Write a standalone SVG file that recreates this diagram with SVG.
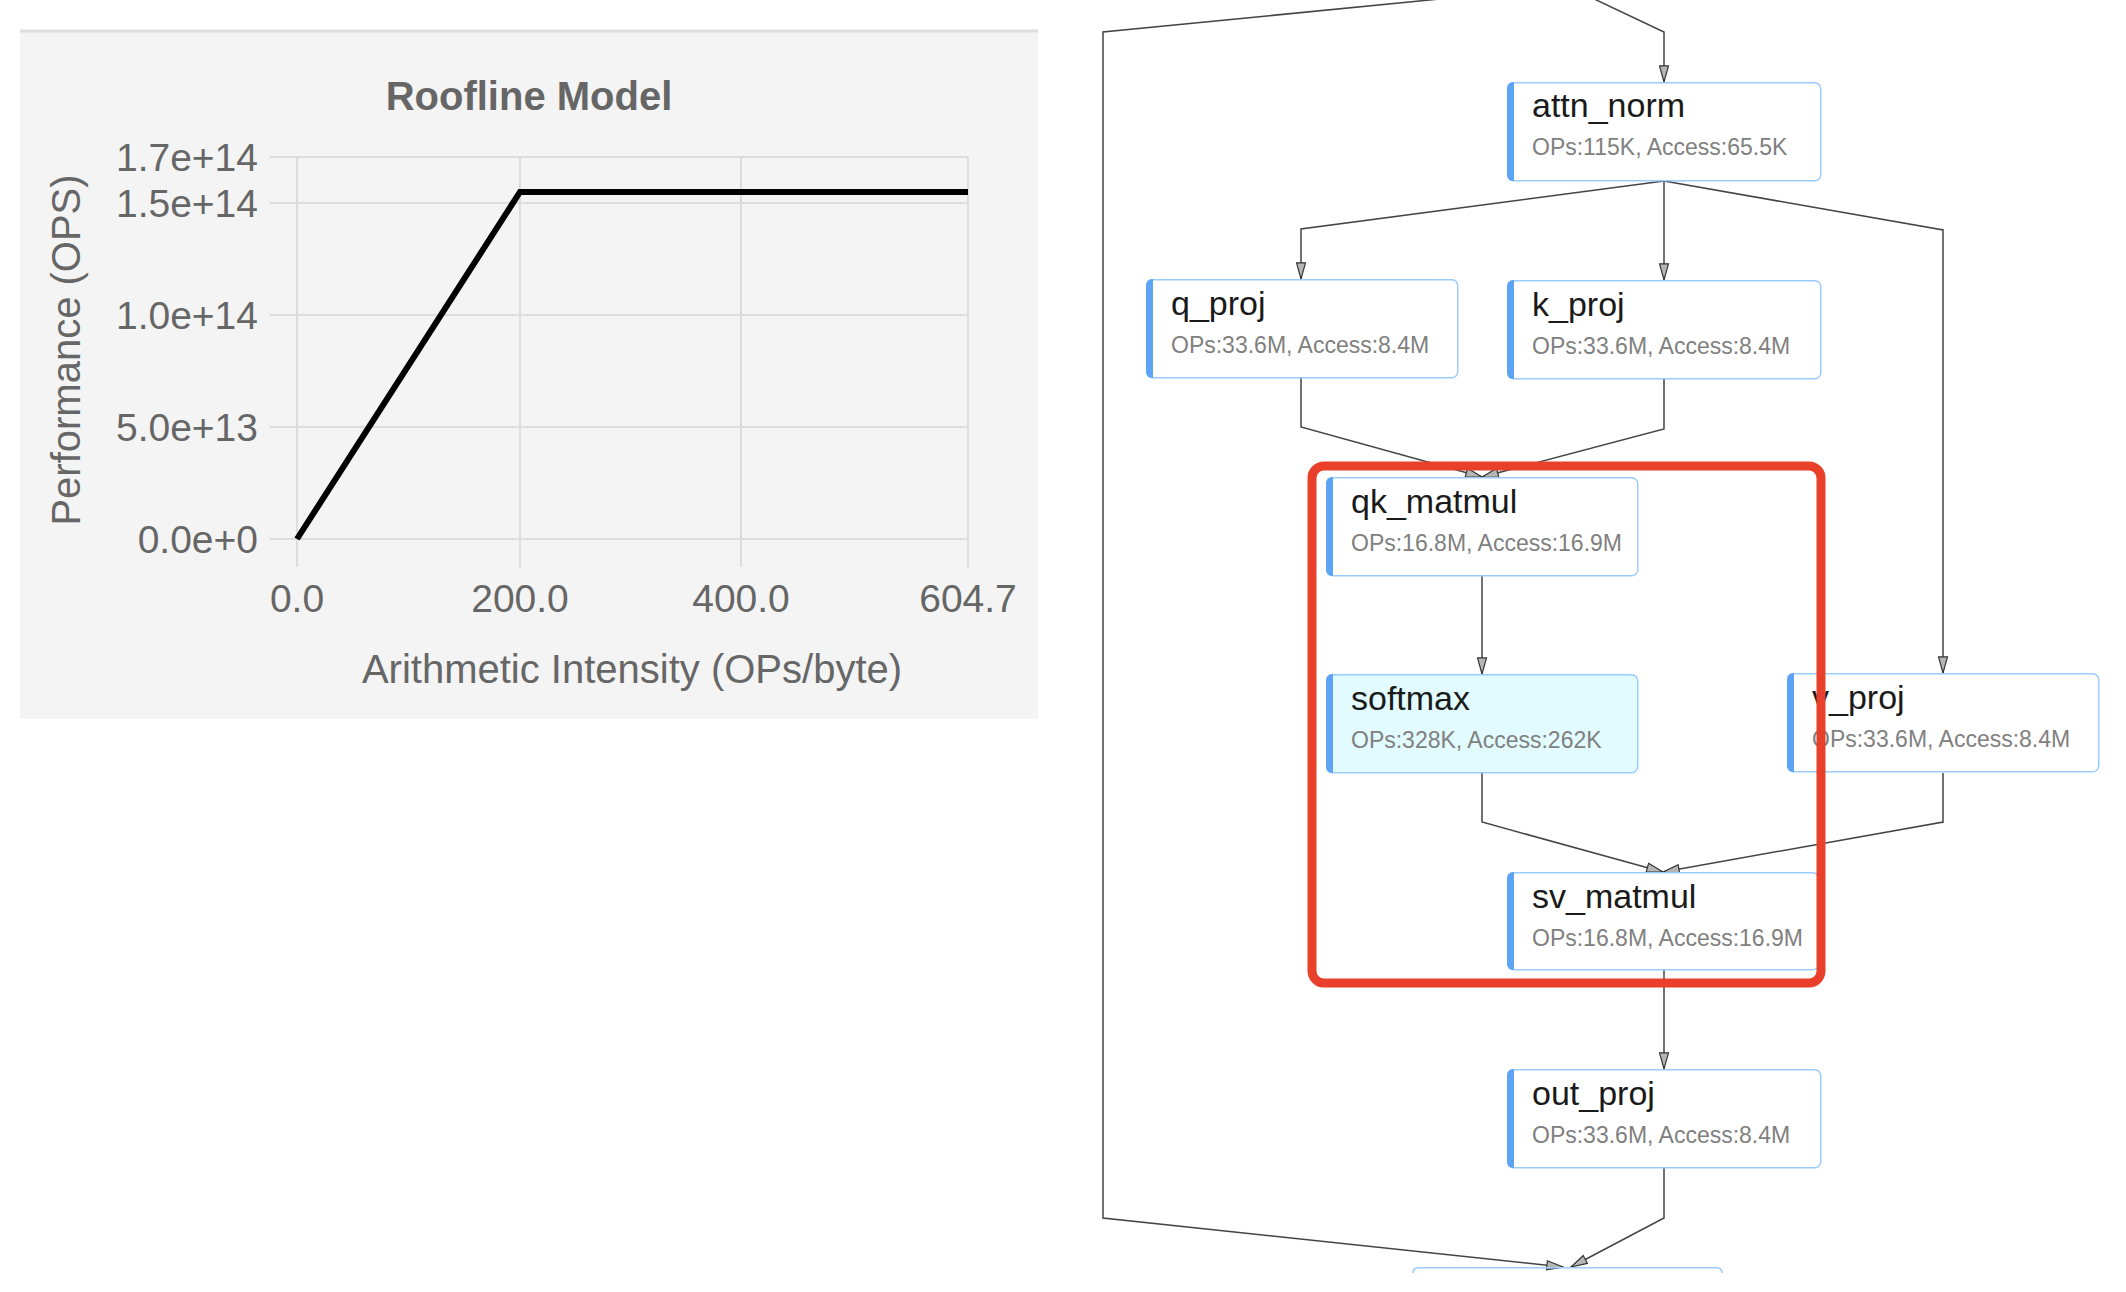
<svg xmlns="http://www.w3.org/2000/svg" width="2126" height="1292" viewBox="0 0 2126 1292">
<style>
.grid{stroke:#dcdcdc;stroke-width:2;fill:none}
.tick{font-family:"Liberation Sans",Arial,sans-serif;font-size:39px;fill:#666}
.axt{font-family:"Liberation Sans",Arial,sans-serif;font-size:40px;fill:#666}
.ttl{font-family:"Liberation Sans",Arial,sans-serif;font-size:40px;font-weight:bold;fill:#666}
.edge{fill:none;stroke:#444;stroke-width:1.5}
.box{fill:#fff;stroke:#9ccbff;stroke-width:1.5}
.box.hl{fill:#e1fbff}
.bar{fill:#5ea4f5}
.nt{font-family:"Liberation Sans",Arial,sans-serif;font-size:34px;fill:#1a1a1a}
.ns{font-family:"Liberation Sans",Arial,sans-serif;font-size:23px;fill:#808080}
</style>
<defs>
<marker id="arr" viewBox="0 0 20 12" refX="19" refY="6" markerWidth="18" markerHeight="11" markerUnits="userSpaceOnUse" orient="auto">
<path d="M1,1 L19,6 L1,11 Z" fill="#b5b5b5" stroke="#333" stroke-width="1.3"/>
</marker>
</defs>
<rect width="2126" height="1292" fill="#fff"/>

<g id="chart">
<rect x="20" y="31" width="1018" height="688" fill="#f4f4f4"/>
<line x1="20" y1="31" x2="1038" y2="31" stroke="#dedede" stroke-width="3"/>
<text class="ttl" x="529" y="110" text-anchor="middle">Roofline Model</text>
<g class="grid">
<line x1="270" y1="157" x2="968" y2="157"/>
<line x1="270" y1="203" x2="968" y2="203"/>
<line x1="270" y1="315" x2="968" y2="315"/>
<line x1="270" y1="427" x2="968" y2="427"/>
<line x1="270" y1="539" x2="968" y2="539"/>
<line x1="297" y1="157" x2="297" y2="567"/>
<line x1="520" y1="157" x2="520" y2="567"/>
<line x1="741" y1="157" x2="741" y2="567"/>
<line x1="968" y1="157" x2="968" y2="567"/>
</g>
<g class="tick" text-anchor="end">
<text x="258" y="171">1.7e+14</text>
<text x="258" y="217">1.5e+14</text>
<text x="258" y="329">1.0e+14</text>
<text x="258" y="441">5.0e+13</text>
<text x="258" y="553">0.0e+0</text>
</g>
<g class="tick" text-anchor="middle">
<text x="297" y="612">0.0</text>
<text x="520" y="612">200.0</text>
<text x="741" y="612">400.0</text>
<text x="968" y="612">604.7</text>
</g>
<text class="axt" x="632" y="683" text-anchor="middle">Arithmetic Intensity (OPs/byte)</text>
<text class="axt" transform="translate(80,350) rotate(-90)" text-anchor="middle">Performance (OPS)</text>
<path d="M297,539 L520,192 L968,192" fill="none" stroke="#000" stroke-width="6" stroke-linejoin="miter"/>
</g>

<g id="connectors">
<path class="edge" marker-end="url(#arr)" d="M1460,-3 L1103,32 L1103,1218 L1563,1267"/>
<path class="edge" marker-end="url(#arr)" d="M1590,-3 L1664,32 L1664,82"/>
<path class="edge" marker-end="url(#arr)" d="M1664,181 L1301,229 L1301,279"/>
<path class="edge" marker-end="url(#arr)" d="M1664,181 L1664,280"/>
<path class="edge" marker-end="url(#arr)" d="M1664,181 L1943,230 L1943,673"/>
<path class="edge" marker-end="url(#arr)" d="M1301,378 L1301,427 L1482,477"/>
<path class="edge" marker-end="url(#arr)" d="M1664,379 L1664,429 L1482,477"/>
<path class="edge" marker-end="url(#arr)" d="M1482,576 L1482,674"/>
<path class="edge" marker-end="url(#arr)" d="M1482,773 L1482,822 L1663,872"/>
<path class="edge" marker-end="url(#arr)" d="M1943,773 L1943,822 L1663,872"/>
<path class="edge" marker-end="url(#arr)" d="M1664,970 L1664,1069"/>
<path class="edge" marker-end="url(#arr)" d="M1664,1168 L1664,1218 L1571,1267"/>
</g>

<g id="attn_norm" transform="translate(1507,82)">
<rect class="box" x="0.75" y="0.75" width="313" height="98" rx="6"/>
<path class="bar" d="M7,0 H6 A6,6 0 0 0 0,6 V93 A6,6 0 0 0 6,99 H7 Z"/>
<text class="nt" x="25" y="35">attn_norm</text>
<text class="ns" x="25" y="73">OPs:115K, Access:65.5K</text>
</g>
<g id="q_proj" transform="translate(1146,279)">
<rect class="box" x="0.75" y="0.75" width="311" height="98" rx="6"/>
<path class="bar" d="M7,0 H6 A6,6 0 0 0 0,6 V93 A6,6 0 0 0 6,99 H7 Z"/>
<text class="nt" x="25" y="36">q_proj</text>
<text class="ns" x="25" y="74">OPs:33.6M, Access:8.4M</text>
</g>
<g id="k_proj" transform="translate(1507,280)">
<rect class="box" x="0.75" y="0.75" width="313" height="98" rx="6"/>
<path class="bar" d="M7,0 H6 A6,6 0 0 0 0,6 V93 A6,6 0 0 0 6,99 H7 Z"/>
<text class="nt" x="25" y="36">k_proj</text>
<text class="ns" x="25" y="74">OPs:33.6M, Access:8.4M</text>
</g>
<g id="qk_matmul" transform="translate(1326,477)">
<rect class="box" x="0.75" y="0.75" width="311" height="98" rx="6"/>
<path class="bar" d="M7,0 H6 A6,6 0 0 0 0,6 V93 A6,6 0 0 0 6,99 H7 Z"/>
<text class="nt" x="25" y="36">qk_matmul</text>
<text class="ns" x="25" y="74">OPs:16.8M, Access:16.9M</text>
</g>
<g id="softmax" transform="translate(1326,674)">
<rect class="box hl" x="0.75" y="0.75" width="311" height="98" rx="6"/>
<path class="bar" d="M7,0 H6 A6,6 0 0 0 0,6 V93 A6,6 0 0 0 6,99 H7 Z"/>
<text class="nt" x="25" y="36">softmax</text>
<text class="ns" x="25" y="74">OPs:328K, Access:262K</text>
</g>
<g id="v_proj" transform="translate(1787,673)">
<rect class="box" x="0.75" y="0.75" width="311" height="98" rx="6"/>
<path class="bar" d="M7,0 H6 A6,6 0 0 0 0,6 V93 A6,6 0 0 0 6,99 H7 Z"/>
<text class="nt" x="25" y="36">v_proj</text>
<text class="ns" x="25" y="74">OPs:33.6M, Access:8.4M</text>
</g>
<g id="sv_matmul" transform="translate(1507,872)">
<rect class="box" x="0.75" y="0.75" width="311" height="97" rx="6"/>
<path class="bar" d="M7,0 H6 A6,6 0 0 0 0,6 V92 A6,6 0 0 0 6,98 H7 Z"/>
<text class="nt" x="25" y="36">sv_matmul</text>
<text class="ns" x="25" y="74">OPs:16.8M, Access:16.9M</text>
</g>
<g id="out_proj" transform="translate(1507,1069)">
<rect class="box" x="0.75" y="0.75" width="313" height="98" rx="6"/>
<path class="bar" d="M7,0 H6 A6,6 0 0 0 0,6 V93 A6,6 0 0 0 6,99 H7 Z"/>
<text class="nt" x="25" y="36">out_proj</text>
<text class="ns" x="25" y="74">OPs:33.6M, Access:8.4M</text>
</g>
<g id="next_node">
<path d="M1413,1273 Q1413,1267.75 1419,1267.75 H1716 Q1722,1267.75 1722,1273" fill="none" stroke="#9ccbff" stroke-width="1.5"/>
</g>

<g id="highlight">
<rect x="1312" y="466" width="509" height="517" rx="12" fill="none" stroke="#e8402a" stroke-width="9"/>
</g>
</svg>
